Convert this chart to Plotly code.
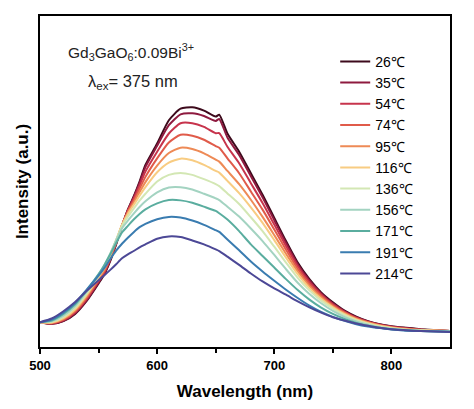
import plotly.graph_objects as go

wavelength = [500, 510, 520, 530, 540, 550, 555, 560, 565, 570, 575, 580, 585, 590, 600, 610, 620, 630,
              640, 650, 653, 660, 670, 680, 690, 700, 710, 720, 730, 740, 750, 760, 770, 780, 790, 800,
              810, 825, 850]

temps = ["26℃", "35℃", "54℃", "74℃", "95℃", "116℃", "136℃", "156℃", "171℃", "191℃", "214℃"]

i_26 = [7.5, 7.0, 7.8, 10.0, 14.0, 19.2, 22.0, 26.0, 31.0, 36.5, 41.5, 45.5, 50.0, 55.0, 61.5, 68.5, 72.0, 72.4,
        71.4, 69.6, 70.2, 64.5, 59.0, 52.5, 46.0, 39.0, 32.0, 25.5, 20.5, 16.5, 13.5, 11.0, 9.2, 7.8, 6.9, 6.3,
        5.9, 5.4, 4.8]
i_35 = [7.5, 7.0, 7.9, 10.2, 14.2, 19.5, 22.3, 26.3, 31.2, 36.6, 41.4, 45.3, 49.6, 54.4, 60.8, 67.0, 70.3, 70.6,
        69.8, 68.3, 68.9, 63.3, 58.0, 51.6, 45.2, 38.3, 31.4, 25.0, 20.1, 16.2, 13.2, 10.8, 9.0, 7.7, 6.8, 6.2,
        5.8, 5.3, 4.8]
i_54 = [7.5, 7.1, 8.1, 10.5, 14.6, 19.9, 22.6, 26.6, 31.4, 36.7, 41.2, 44.8, 48.8, 53.0, 59.0, 64.5, 67.6, 67.6,
        66.5, 64.6, 64.6, 60.5, 55.5, 49.5, 43.5, 37.0, 30.5, 24.4, 19.6, 15.9, 12.9, 10.6, 8.8, 7.6, 6.7, 6.1,
        5.7, 5.2, 4.8]
i_74 = [7.5, 7.2, 8.3, 10.8, 15.0, 20.3, 23.0, 27.0, 31.7, 36.8, 40.9, 44.2, 47.8, 51.4, 57.0, 61.8, 64.1, 63.8,
        62.6, 60.7, 60.2, 57.0, 52.5, 47.0, 41.5, 35.5, 29.4, 23.6, 19.0, 15.5, 12.6, 10.4, 8.7, 7.5, 6.6, 6.0,
        5.6, 5.2, 4.8]
i_95 = [7.5, 7.3, 8.5, 11.1, 15.4, 20.7, 23.4, 27.4, 32.0, 36.9, 40.6, 43.6, 46.8, 49.8, 54.8, 58.6, 60.2, 59.8,
        58.5, 56.6, 56.0, 53.2, 49.2, 44.5, 39.3, 33.8, 28.2, 22.8, 18.4, 15.0, 12.3, 10.2, 8.5, 7.4, 6.5, 5.9,
        5.5, 5.1, 4.8]
i_116 = [7.5, 7.4, 8.7, 11.4, 15.8, 21.1, 23.9, 27.8, 32.3, 36.9, 40.2, 42.9, 45.7, 48.3, 52.8, 55.7, 56.9, 56.4,
         55.0, 53.2, 52.7, 50.2, 46.5, 42.2, 37.5, 32.3, 27.0, 22.0, 17.8, 14.6, 12.0, 9.9, 8.3, 7.2, 6.4, 5.8,
         5.4, 5.1, 4.8]
i_136 = [7.5, 7.6, 9.1, 11.9, 16.3, 21.5, 24.3, 28.1, 32.4, 36.6, 39.4, 41.8, 44.2, 46.3, 50.0, 52.0, 52.6, 52.0,
         50.7, 49.2, 48.6, 46.4, 43.2, 39.2, 35.0, 30.3, 25.5, 20.9, 17.1, 14.0, 11.6, 9.6, 8.1, 7.0, 6.2, 5.7,
         5.3, 5.0, 4.8]
i_156 = [7.5, 7.8, 9.5, 12.4, 16.8, 21.9, 24.8, 28.3, 32.2, 35.9, 38.2, 40.3, 42.3, 44.0, 46.7, 48.2, 48.3, 47.6,
         46.3, 44.9, 44.4, 42.4, 39.4, 35.8, 32.0, 27.8, 23.5, 19.4, 16.0, 13.2, 10.9, 9.1, 7.7, 6.7, 6.0, 5.5,
         5.2, 4.9, 4.7]
i_171 = [7.5, 8.0, 10.0, 12.9, 17.2, 22.0, 24.8, 28.0, 31.4, 34.6, 36.6, 38.5, 40.2, 41.6, 43.4, 44.4, 44.3, 43.6,
         42.4, 41.1, 40.4, 38.5, 35.0, 31.0, 27.5, 24.0, 20.5, 17.2, 14.3, 11.9, 10.0, 8.5, 7.3, 6.4, 5.8, 5.4,
         5.1, 4.8, 4.6]
i_191 = [7.5, 8.3, 10.4, 13.3, 17.4, 21.6, 23.9, 26.6, 29.1, 31.2, 33.0, 34.7, 36.2, 37.2, 38.6, 39.3, 39.1, 38.2,
         36.9, 35.3, 34.8, 32.5, 29.2, 25.8, 22.8, 20.0, 17.3, 14.8, 12.5, 10.6, 9.1, 7.9, 6.9, 6.2, 5.7, 5.3,
         5.0, 4.8, 4.6]
i_214 = [7.5, 8.6, 10.8, 13.6, 17.0, 20.2, 21.7, 23.3, 25.0, 26.8, 28.0, 29.0, 30.1, 31.0, 32.7, 33.4, 33.2, 32.2,
         31.0, 29.5, 29.0, 27.3, 24.8, 22.2, 19.8, 17.7, 15.8, 13.8, 12.0, 10.4, 9.0, 8.0, 7.1, 6.4, 5.8, 5.4,
         5.1, 4.8, 4.5]

series = [i_26, i_35, i_54, i_74, i_95, i_116, i_136, i_156, i_171, i_191, i_214]
colors = ["#3d0a1c", "#8e1a3f", "#c7344c", "#e05b4a", "#ee8a56", "#f8cc82", "#d3e7b4", "#a3d3c1",
          "#5aad9f", "#3a7cb0", "#4c4896"]

FONT = "Arial, Liberation Sans, sans-serif"

fig = go.Figure()
for name, ys, c in zip(temps, series, colors):
    fig.add_trace(go.Scatter(x=wavelength, y=ys, mode="lines", name=name,
                             line=dict(color=c, width=2, shape="spline", smoothing=0.6)))

# page body has an 8px default margin; figure sized to fit the 474x409 window
fig.update_layout(
    width=458, height=393,
    margin=dict(l=32, r=16, t=8, b=54, autoexpand=False),
    paper_bgcolor="white", plot_bgcolor="white",
    font=dict(family=FONT, color="black"),
    showlegend=True,
    legend=dict(x=0.72, y=0.91, xanchor="left", yanchor="top",
                font=dict(size=14, family=FONT, color="black"),
                bgcolor="rgba(0,0,0,0)", tracegroupgap=0),
    xaxis=dict(range=[500, 850], showgrid=False, zeroline=False, automargin=False,
               showline=True, linecolor="black", linewidth=2, mirror=True,
               ticks="outside", ticklen=5, tickwidth=2, tickcolor="black",
               tickvals=[500, 600, 700, 800],
               tickfont=dict(size=13, family=FONT, weight="bold"),
               minor=dict(tickvals=[550, 650, 750], ticks="outside", ticklen=4, tickwidth=2,
                          tickcolor="black"),
               title=dict(text="Wavelength (nm)", font=dict(size=17, family=FONT, weight="bold"),
                          standoff=16)),
    yaxis=dict(range=[0, 100], showgrid=False, zeroline=False, showticklabels=False, automargin=False,
               showline=True, linecolor="black", linewidth=2, mirror=True, ticks="",
               title=dict(text="Intensity (a.u.)", font=dict(size=17, family=FONT, weight="bold"),
                          standoff=5)),
)

fig.add_annotation(x=0.222, y=0.891, xref="paper", yref="paper", showarrow=False,
                   text="Gd<sub>3</sub>GaO<sub>6</sub>:0.09Bi<sup>3+</sup>",
                   font=dict(size=15.5, family=FONT, color="#222"), xanchor="center", yanchor="middle")
fig.add_annotation(x=0.226, y=0.80, xref="paper", yref="paper", showarrow=False,
                   text="λ<sub>ex</sub>= 375 nm",
                   font=dict(size=16.5, family=FONT, color="#222"), xanchor="center", yanchor="middle")

fig.write_html("out.html")
